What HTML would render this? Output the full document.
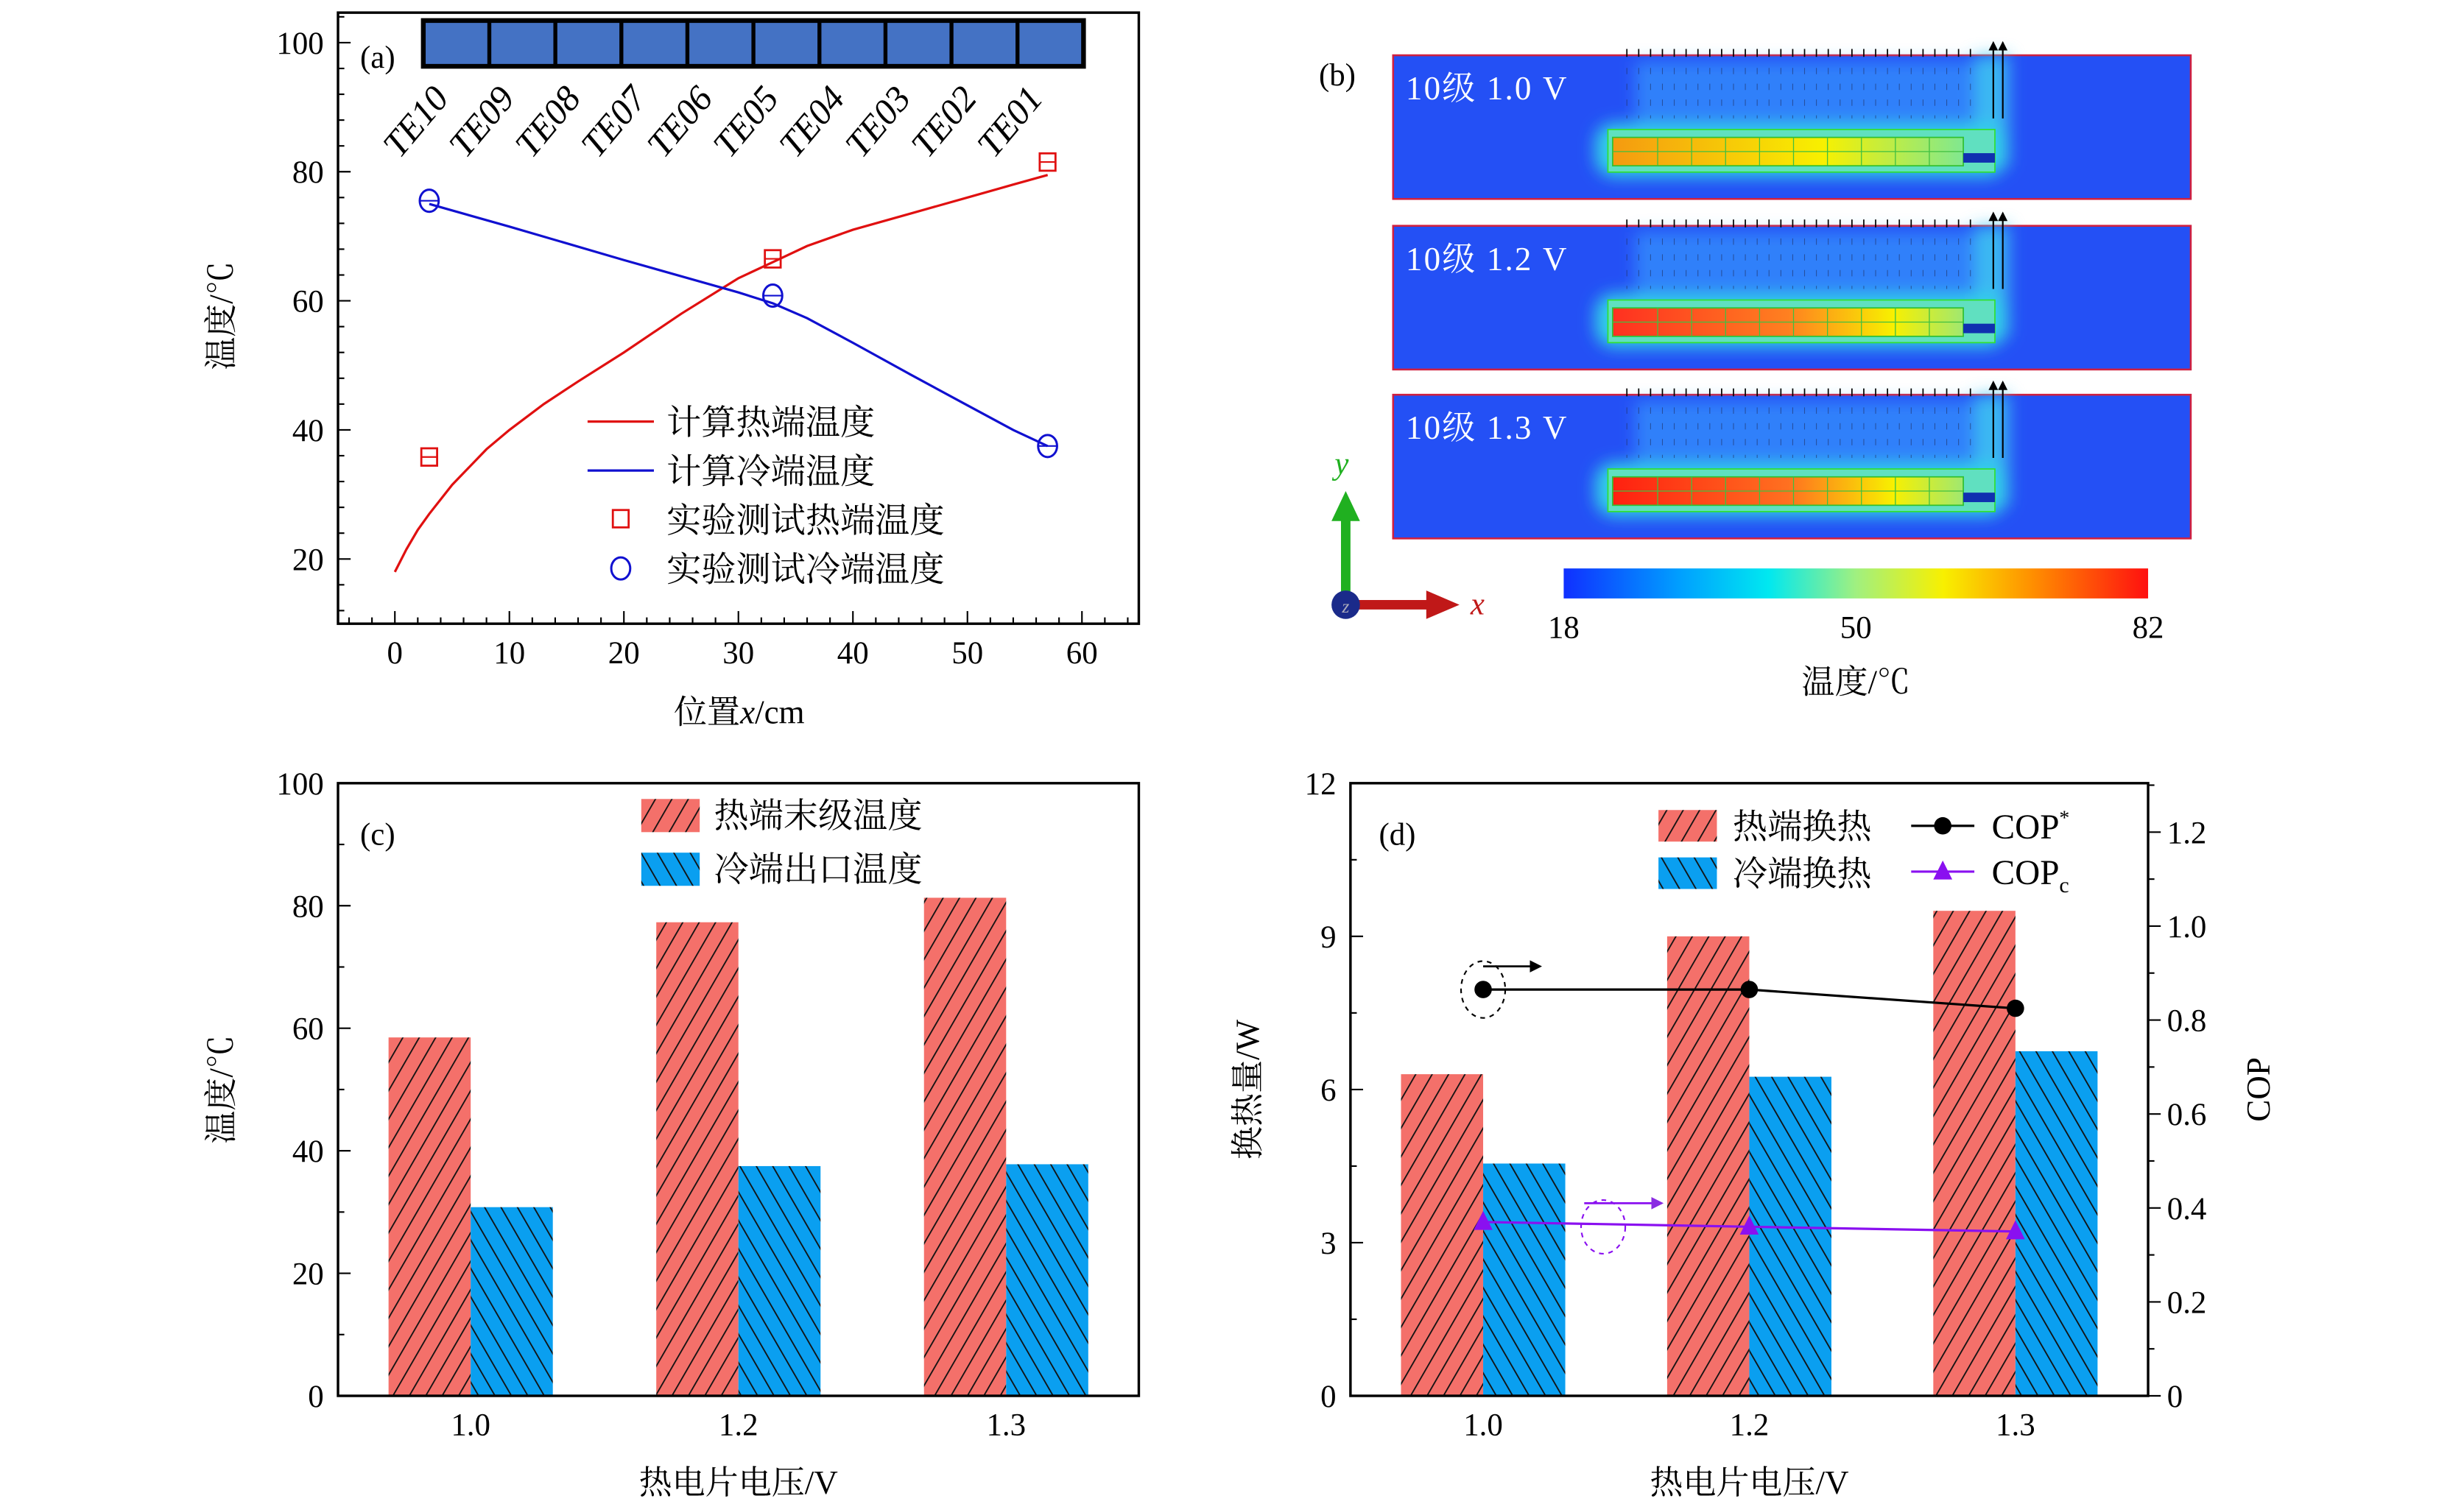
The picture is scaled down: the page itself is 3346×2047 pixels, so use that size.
<!DOCTYPE html>
<html><head><meta charset="utf-8">
<style>
html,body{margin:0;padding:0;background:#fff;}
svg{display:block;}
text{font-family:"Liberation Serif","Noto Serif CJK SC",serif;fill:#000;}
</style></head>
<body>
<svg id="fig" width="3346" height="2047" viewBox="0 0 1560 954.4" preserveAspectRatio="none" xmlns="http://www.w3.org/2000/svg">
<defs>
<pattern id="hatHot" patternUnits="userSpaceOnUse" width="9" height="9" patternTransform="rotate(30)">
<rect width="9" height="9" fill="#f4706a"/><line x1="0" y1="0" x2="0" y2="9" stroke="#111" stroke-width="1.7"/>
</pattern>
<pattern id="hatCold" patternUnits="userSpaceOnUse" width="9" height="9" patternTransform="rotate(-30)">
<rect width="9" height="9" fill="#0a9ff0"/><line x1="0" y1="0" x2="0" y2="9" stroke="#111" stroke-width="1.7"/>
</pattern>
<linearGradient id="jet" x1="0" x2="1" y1="0" y2="0">
<stop offset="0" stop-color="#1030ff"/><stop offset="0.2" stop-color="#00a0ff"/><stop offset="0.35" stop-color="#00e8f0"/>
<stop offset="0.5" stop-color="#a0f080"/><stop offset="0.65" stop-color="#f8f000"/><stop offset="0.8" stop-color="#ff9000"/><stop offset="1" stop-color="#ff1010"/>
</linearGradient>
<linearGradient id="bar1" x1="0" x2="1"><stop offset="0" stop-color="#f59a10"/><stop offset="0.6" stop-color="#f8f000"/><stop offset="1" stop-color="#80e890"/></linearGradient>
<linearGradient id="bar2" x1="0" x2="1"><stop offset="0" stop-color="#ff3020"/><stop offset="0.5" stop-color="#ff8020"/><stop offset="0.8" stop-color="#f8f000"/><stop offset="1" stop-color="#a0e870"/></linearGradient>
<linearGradient id="bar3" x1="0" x2="1"><stop offset="0" stop-color="#ff2010"/><stop offset="0.5" stop-color="#ff7020"/><stop offset="0.8" stop-color="#f8f000"/><stop offset="1" stop-color="#a0e870"/></linearGradient>
<filter id="blur" x="-20%" y="-50%" width="140%" height="200%"><feGaussianBlur stdDeviation="5"/></filter>
<marker id="arrK" markerWidth="6" markerHeight="6" refX="5" refY="3" orient="auto"><path d="M0,0 L6,3 L0,6 z" fill="#000"/></marker>
<marker id="arrP" markerWidth="6" markerHeight="6" refX="5" refY="3" orient="auto"><path d="M0,0 L6,3 L0,6 z" fill="#8a2be2"/></marker>
</defs>
<g id="pa"></g>
<g id="pb"></g>
<g id="pc"></g>
<g id="pd"></g>
</svg>
<script>
// ---------- Panel (a) data ----------
const aCalcHotX = [0, 1, 2, 3, 5, 8, 10, 13, 16, 20, 25, 30, 33, 36, 40, 45, 50, 54, 57];
const aCalcHotY = [18, 21.5, 24.5, 27, 31.5, 37, 40, 44, 47.5, 52, 58, 63.5, 66, 68.5, 71, 73.5, 76, 78, 79.5];
const aCalcColdX = [3, 10, 20, 30, 33, 36, 40, 45, 50, 54, 57];
const aCalcColdY = [75, 71.5, 66.3, 61.3, 59.6, 57.3, 53.5, 48.6, 43.8, 40, 37.5];
const aExpHotX = [3, 33, 57];
const aExpHotY = [35.8, 66.5, 81.5];
const aExpColdX = [3, 33, 57];
const aExpColdY = [75.5, 60.8, 37.5];
const aXTicks = [0, 10, 20, 30, 40, 50, 60];
const aYTicks = [20, 40, 60, 80, 100];
const teLabels = ["TE10","TE09","TE08","TE07","TE06","TE05","TE04","TE03","TE02","TE01"];
// ---------- Panel (c) data ----------
const cCats = ["1.0", "1.2", "1.3"];
const cHot = [58.5, 77.3, 81.3];
const cCold = [30.8, 37.5, 37.8];
const cYTicks = [0, 20, 40, 60, 80, 100];
// ---------- Panel (d) data ----------
const dCats = ["1.0", "1.2", "1.3"];
const dHot = [6.3, 9.0, 9.5];
const dCold = [4.55, 6.25, 6.75];
const dCopStar = [0.865, 0.865, 0.825];
const dCopC = [0.37, 0.36, 0.35];
const dYTicks = [0, 3, 6, 9, 12];
const dY2Ticks = ["0", "0.2", "0.4", "0.6", "0.8", "1.0", "1.2"];
// ---------- Panel (b) data ----------
const bLabels = ["10级 1.0 V", "10级 1.2 V", "10级 1.3 V"];
const bColorTicks = [18, 50, 82];

const NS = "http://www.w3.org/2000/svg";
function mk(parent, tag, attrs, txt) {
  const e = document.createElementNS(NS, tag);
  for (const k in attrs) e.setAttribute(k, attrs[k]);
  if (txt !== undefined) e.textContent = txt;
  parent.appendChild(e);
  return e;
}

// ===== Panel A =====
(function(){
  const g = document.getElementById('pa');
  const X0=214, X1=721, Y0=8, Y1=395;
  const xs = v => 250 + v * (685-250)/60;
  const ys = v => 354 - (v-20) * (354-27)/80;
  const fr = mk(g,'rect',{x:X0,y:Y0,width:X1-X0,height:Y1-Y0,fill:'none',stroke:'#000','stroke-width':1.6});
   
  for (let v=-4; v<=64; v+=2) {
    const big = v%10===0;
    mk(g,'line',{x1:xs(v),x2:xs(v),y1:Y1,y2:Y1-(big?8:4),stroke:'#000','stroke-width':1});
  }
  for (let v=12; v<=104; v+=4) {
    const big = v%20===0;
    mk(g,'line',{x1:X0,x2:X0+(big?8:4),y1:ys(v),y2:ys(v),stroke:'#000','stroke-width':1});
  }
  aXTicks.forEach(v=>{
    const t = mk(g,'text',{x:xs(v),y:420,'font-size':20,'text-anchor':'middle'},String(v));
     
  });
  aYTicks.forEach(v=>{
    const t = mk(g,'text',{x:205,y:ys(v)+7,'font-size':20,'text-anchor':'end'},String(v));
     
  });
  const xt = mk(g,'text',{x:468,y:458,'font-size':21,'text-anchor':'middle'});
  xt.innerHTML = '位置<tspan font-style="italic">x</tspan>/cm';
   
  const yt = mk(g,'text',{x:0,y:0,'font-size':21,'text-anchor':'middle',transform:'translate(147,200) rotate(-90)'},'温度/℃');
   
  const pl = mk(g,'text',{x:228,y:43,'font-size':20},'(a)');
   
  const sx0=268, sx1=686, cw=(sx1-sx0)/10;
  const strip = mk(g,'rect',{x:sx0,y:13,width:sx1-sx0,height:29,fill:'#4472c4',stroke:'#000','stroke-width':3});
   
  teLabels.forEach((l,i)=>{
    if (i>0) mk(g,'line',{x1:sx0+i*cw,x2:sx0+i*cw,y1:13,y2:42,stroke:'#000','stroke-width':2.5});
    const cx = sx0 + i*cw;
    const t = mk(g,'text',{x:0,y:0,'font-size':23,'font-style':'italic',transform:`translate(${cx-15},${101}) rotate(-50)`},l);
     
  });
  const path = (X,Y)=>X.map((x,i)=>(i?'L':'M')+xs(x).toFixed(1)+','+ys(Y[i]).toFixed(1)).join(' ');
  const lh = mk(g,'path',{d:path(aCalcHotX,aCalcHotY),fill:'none',stroke:'#e01010','stroke-width':1.5});
   
  const lc = mk(g,'path',{d:path(aCalcColdX,aCalcColdY),fill:'none',stroke:'#1010d0','stroke-width':1.5});
   
  aExpHotX.forEach((x,i)=>{
    const cx=xs(x), cy=ys(aExpHotY[i]);
    const r = mk(g,'rect',{x:cx-5,y:cy-5.5,width:10,height:11,fill:'none',stroke:'#e01010','stroke-width':1.3});
     
    mk(g,'line',{x1:cx-5,x2:cx+5,y1:cy,y2:cy,stroke:'#e01010','stroke-width':1});
  });
  aExpColdX.forEach((x,i)=>{
    const cx=xs(x), cy=ys(aExpColdY[i]);
    const c = mk(g,'ellipse',{cx:cx,cy:cy,rx:6,ry:7,fill:'none',stroke:'#1010d0','stroke-width':1.4});
     
    mk(g,'line',{x1:cx-6,x2:cx+6,y1:cy,y2:cy,stroke:'#1010d0','stroke-width':1});
  });
  const leg = mk(g,'g',{});  
  mk(leg,'line',{x1:372,x2:414,y1:267,y2:267,stroke:'#e01010','stroke-width':1.5});
  mk(leg,'line',{x1:372,x2:414,y1:298,y2:298,stroke:'#1010d0','stroke-width':1.5});
  mk(leg,'rect',{x:388,y:323,width:10,height:11,fill:'none',stroke:'#e01010','stroke-width':1.3});
  mk(leg,'ellipse',{cx:393,cy:360,rx:6,ry:7,fill:'none',stroke:'#1010d0','stroke-width':1.4});
  ['计算热端温度','计算冷端温度','实验测试热端温度','实验测试冷端温度'].forEach((s,i)=>{
    const t = mk(leg,'text',{x:422,y:275+i*31,'font-size':22},s);
     
  });
})();

// ===== Panel B =====
(function(){
  const g = document.getElementById('pb');
  const pl = mk(g,'text',{x:835,y:54,'font-size':20},'(b)');
   
  const tops = [35, 143, 250];
  const grads = ['bar1','bar2','bar3'];
  tops.forEach((ty,i)=>{
    const sg = mk(g,'g',{});  
    const h=91;
    mk(sg,'rect',{x:882,y:ty,width:505,height:h,fill:'#2450f5',stroke:'#d02040','stroke-width':1.2});
    const gl = mk(sg,'g',{filter:'url(#blur)'});
    mk(gl,'rect',{x:1035,y:ty+4,width:230,height:46,fill:'#3aa8ff',opacity:0.55});
    mk(gl,'rect',{x:1250,y:ty,width:22,height:70,fill:'#40c8f0',opacity:0.8});
    mk(gl,'rect',{x:1010,y:ty+43,width:260,height:34,rx:12,fill:'#30d0e8'});
    mk(sg,'rect',{x:1018,y:ty+47,width:245,height:27,fill:'#60e0c0',stroke:'#30e030','stroke-width':0.8});
    mk(sg,'rect',{x:1021,y:ty+52,width:222,height:18,fill:'url(#'+grads[i]+')',stroke:'#30c030','stroke-width':0.8});
    for(let k=1;k<10;k++) mk(sg,'line',{x1:1028+k*21.5,x2:1028+k*21.5,y1:ty+52,y2:ty+70,stroke:'#40c040','stroke-width':0.6});
    mk(sg,'line',{x1:1021,x2:1243,y1:ty+61,y2:ty+61,stroke:'#40c040','stroke-width':0.6});
    mk(sg,'rect',{x:1243,y:ty+62,width:20,height:6,fill:'#1030b0'});
    for(let k=0;k<30;k++){
      const ax = 1030 + k*7.5;
      mk(sg,'line',{x1:ax,x2:ax,y1:ty+1,y2:ty-4,stroke:'#000','stroke-width':0.8});
      mk(sg,'line',{x1:ax,x2:ax,y1:ty+8,y2:ty+40,stroke:'#203060','stroke-width':0.5,'stroke-dasharray':'4 6',opacity:0.6});
    }
    mk(sg,'line',{x1:1262,x2:1262,y1:ty+40,y2:ty-8,stroke:'#000','stroke-width':1,'marker-end':'url(#arrK)'});
    mk(sg,'line',{x1:1268,x2:1268,y1:ty+40,y2:ty-8,stroke:'#000','stroke-width':1,'marker-end':'url(#arrK)'});
    const t = mk(sg,'text',{x:890,y:ty+28,'font-size':21,style:'fill:#fff;letter-spacing:1px'},bLabels[i]);
     
  });
  const cb = mk(g,'rect',{x:990,y:360,width:370,height:19,fill:'url(#jet)'});
   
  const cs = v => 990 + (v-18)*370/64;
  bColorTicks.forEach(v=>{
    const t = mk(g,'text',{x:cs(v),y:404,'font-size':20,'text-anchor':'middle'},String(v));
     
  });
  const ct = mk(g,'text',{x:1175,y:439,'font-size':21,'text-anchor':'middle'},'温度/℃');
   
  const ax = mk(g,'g',{});  
  mk(ax,'rect',{x:849,y:325,width:6,height:58,fill:'#20b020'});
  mk(ax,'path',{d:'M843,330 L852,311 L861,330 z',fill:'#20b020'});
  mk(ax,'rect',{x:852,y:380,width:54,height:6,fill:'#c01818'});
  mk(ax,'path',{d:'M903,374 L924,383 L903,392 z',fill:'#c01818'});
  mk(ax,'circle',{cx:852,cy:383,r:9,fill:'#1a2a8a'});
  mk(ax,'text',{x:852,y:388,'font-size':12,'text-anchor':'middle','font-style':'italic',style:'fill:#aab'},'z');
  mk(ax,'text',{x:845,y:300,'font-size':20,'font-style':'italic',style:'fill:#20b020'},'y');
  mk(ax,'text',{x:931,y:389,'font-size':20,'font-style':'italic',style:'fill:#c01818'},'x');
})();

// ===== Bar panels =====
function barPanel(gid, X0, X1, Y0, Y1, yMax, cats, hot, cold, yTicks){
  const g = document.getElementById(gid);
  const ys = v => Y1 - v*(Y1-Y0)/yMax;
  const bw = 52;
  cats.forEach((c,i)=>{
    const cx = X0 + 84 + i*(X1-X0-168)/2;
    const b1 = mk(g,'rect',{x:cx-bw,y:ys(hot[i]),width:bw,height:Y1-ys(hot[i]),fill:'url(#hatHot)'});
     
    const b2 = mk(g,'rect',{x:cx,y:ys(cold[i]),width:bw,height:Y1-ys(cold[i]),fill:'url(#hatCold)'});
     
    const t = mk(g,'text',{x:cx,y:Y1+25,'font-size':20,'text-anchor':'middle'},c);
     
  });
  const fr = mk(g,'rect',{x:X0,y:Y0,width:X1-X0,height:Y1-Y0,fill:'none',stroke:'#000','stroke-width':1.6});
   
  const step = yTicks[1]-yTicks[0];
  for(let v=0; v<=yMax+1e-9; v+=step/2){
    const big = Math.abs(v/step - Math.round(v/step))<1e-6;
    mk(g,'line',{x1:X0,x2:X0+(big?8:4),y1:ys(v),y2:ys(v),stroke:'#000','stroke-width':1});
  }
  yTicks.forEach(v=>{
    const t = mk(g,'text',{x:X0-9,y:ys(v)+7,'font-size':20,'text-anchor':'end'},String(v));
     
  });
  const xt = mk(g,'text',{x:(X0+X1)/2,y:Y1+62,'font-size':21,'text-anchor':'middle'},'热电片电压/V');
   
  return {g, ys};
}

// Panel C
(function(){
  const p = barPanel('pc',214,721,496,884,100,cCats,cHot,cCold,cYTicks);
  const g = p.g;
  const yt = mk(g,'text',{x:0,y:0,'font-size':21,'text-anchor':'middle',transform:'translate(147,690) rotate(-90)'},'温度/℃');
   
  const pl = mk(g,'text',{x:228,y:535,'font-size':20},'(c)');
   
  const leg = mk(g,'g',{});  
  mk(leg,'rect',{x:406,y:506,width:37,height:21,fill:'url(#hatHot)'});
  mk(leg,'rect',{x:406,y:540,width:37,height:21,fill:'url(#hatCold)'});
  mk(leg,'text',{x:452,y:524,'font-size':22},'热端末级温度');
  mk(leg,'text',{x:452,y:558,'font-size':22},'冷端出口温度');
})();

// Panel D
(function(){
  const X0=855, X1=1360, Y0=496, Y1=884;
  const p = barPanel('pd',X0,X1,Y0,Y1,12,dCats,dHot,dCold,dYTicks);
  const g = p.g;
  const y2 = v => Y1 - v*(Y1-527)/1.2;
  for(let k=0;k<=13;k++){
    const v=k*0.1;
    mk(g,'line',{x1:X1,x2:X1+(k%2===0?8:4),y1:y2(v),y2:y2(v),stroke:'#000','stroke-width':1});
  }
  dY2Ticks.forEach(s=>{
    const t = mk(g,'text',{x:1372,y:y2(parseFloat(s))+7,'font-size':20},s);
     
  });
  const cx = i => X0 + 84 + i*(X1-X0-168)/2;
  const lp = arr => arr.map((v,i)=>(i?'L':'M')+cx(i).toFixed(1)+','+y2(v).toFixed(1)).join(' ');
  const l1 = mk(g,'path',{d:lp(dCopStar),fill:'none',stroke:'#000','stroke-width':1.5});
   
  dCopStar.forEach((v,i)=>{
    const c = mk(g,'circle',{cx:cx(i),cy:y2(v),r:5.5,fill:'#000'});
     
  });
  const l2 = mk(g,'path',{d:lp(dCopC),fill:'none',stroke:'#8a10f0','stroke-width':1.5});
   
  dCopC.forEach((v,i)=>{
    const x=cx(i), y=y2(v);
    const t = mk(g,'path',{d:`M${x-6},${y+5} L${x},${y-7} L${x+6},${y+5} z`,fill:'#8a10f0'});
     
  });
  const ann = mk(g,'g',{});  
  mk(ann,'ellipse',{cx:cx(0),cy:y2(dCopStar[0]),rx:14,ry:18,fill:'none',stroke:'#000','stroke-width':1,'stroke-dasharray':'3 3'});
  mk(ann,'line',{x1:cx(0),x2:975,y1:612,y2:612,stroke:'#000','stroke-width':1.3,'marker-end':'url(#arrK)'});
  mk(ann,'ellipse',{cx:1015,cy:777,rx:14,ry:17,fill:'none',stroke:'#8a10f0','stroke-width':1,'stroke-dasharray':'3 3'});
  mk(ann,'line',{x1:1003,x2:1052,y1:762,y2:762,stroke:'#8a10f0','stroke-width':1.3,'marker-end':'url(#arrP)'});
  const yt = mk(g,'text',{x:0,y:0,'font-size':21,'text-anchor':'middle',transform:'translate(797,690) rotate(-90)'},'换热量/W');
   
  const yt2 = mk(g,'text',{x:0,y:0,'font-size':21,'text-anchor':'middle',transform:'translate(1437,690) rotate(-90)'},'COP');
   
  const pl = mk(g,'text',{x:873,y:535,'font-size':20},'(d)');
   
  const leg = mk(g,'g',{});  
  mk(leg,'rect',{x:1050,y:513,width:37,height:20,fill:'url(#hatHot)'});
  mk(leg,'rect',{x:1050,y:543,width:37,height:20,fill:'url(#hatCold)'});
  mk(leg,'text',{x:1097,y:531,'font-size':22},'热端换热');
  mk(leg,'text',{x:1097,y:561,'font-size':22},'冷端换热');
  mk(leg,'line',{x1:1210,x2:1250,y1:523,y2:523,stroke:'#000','stroke-width':1.5});
  mk(leg,'circle',{cx:1230,cy:523,r:5.5,fill:'#000'});
  mk(leg,'line',{x1:1210,x2:1250,y1:552,y2:552,stroke:'#8a10f0','stroke-width':1.5});
  mk(leg,'path',{d:'M1224,557 L1230,545 L1236,557 z',fill:'#8a10f0'});
  const t1 = mk(leg,'text',{x:1261,y:531,'font-size':22});
  t1.innerHTML='COP<tspan font-size="13" dy="-9">*</tspan>';
  const t2 = mk(leg,'text',{x:1261,y:560,'font-size':22});
  t2.innerHTML='COP<tspan font-size="14" dy="5">c</tspan>';
})();
</script>
</body></html>
